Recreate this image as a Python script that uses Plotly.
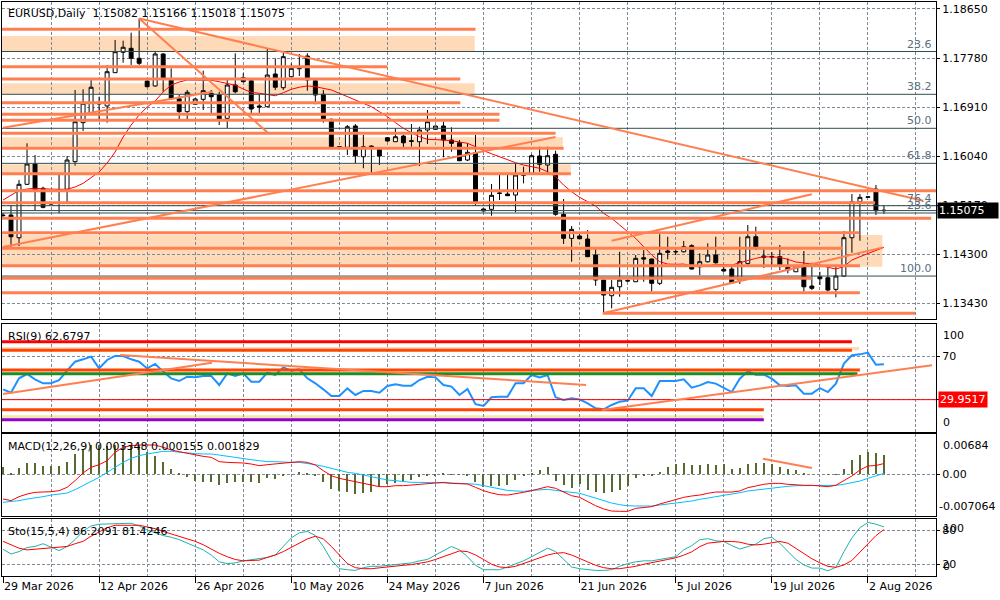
import datetime as dt
import plotly.graph_objects as go

# ---------------- categories (broker calendar: Sunday..Friday bars) ----------------
N_BARS = 111
dates = []
_d = dt.date(2026, 3, 29)
while len(dates) < N_BARS:
    if _d.weekday() != 5:
        dates.append(_d)
    _d += dt.timedelta(days=1)
date_labels = [f"{x.day} {x.strftime('%b')} {x.year}" for x in dates]
bars = list(range(N_BARS))

tick_labels = ["29 Mar 2026", "12 Apr 2026", "26 Apr 2026", "10 May 2026", "24 May 2026",
               "7 Jun 2026", "21 Jun 2026", "5 Jul 2026", "19 Jul 2026", "2 Aug 2026"]
price_ticks = [1.18650, 1.17780, 1.16910, 1.16040, 1.15170, 1.14300, 1.13430]

# ---------------- EURUSD daily OHLC ----------------
opens = [1.14996, 1.14996, 1.14594, 1.15541, 1.15901, 1.15470, 1.15204, 1.15431, 1.15452, 1.15942,
         1.16634, 1.16811, 1.16965, 1.16930, 1.17521, 1.17882, 1.17953, 1.17776, 1.17373, 1.17285,
         1.17852, 1.17391, 1.17059, 1.16829, 1.16960, 1.17048, 1.17155, 1.17125, 1.16711, 1.17302,
         1.17431, 1.17378, 1.16930, 1.16917, 1.17497, 1.17254, 1.17449, 1.17591, 1.17816, 1.17378,
         1.17137, 1.16694, 1.16185, 1.16197, 1.16575, 1.16030, 1.16220, 1.16161, 1.16367, 1.16296,
         1.16397, 1.16314, 1.16296, 1.16504, 1.16516, 1.16575, 1.16326, 1.16278, 1.15972, 1.16101,
         1.15103, 1.15097, 1.15378, 1.15369, 1.15351, 1.15702, 1.15736, 1.16043, 1.15883, 1.16073,
         1.15009, 1.14583, 1.14624, 1.14571, 1.14287, 1.13843, 1.13565, 1.13724, 1.13834, 1.13813,
         1.14239, 1.14216, 1.13785, 1.14358, 1.14349, 1.14345, 1.14452, 1.14079, 1.14168, 1.14287,
         1.14033, 1.14038, 1.13843, 1.14139, 1.14611, 1.14269, 1.14260, 1.14257, 1.14097, 1.13990,
         1.14079, 1.13737, 1.13902, 1.13884, 1.13678, 1.13914, 1.14594, 1.15232, 1.15310, 1.15457,
         1.15082]
highs = [1.15032, 1.15174, 1.15617, 1.16268, 1.16060, 1.15498, 1.15227, 1.15736, 1.16043, 1.17214,
         1.17226, 1.17403, 1.17095, 1.17657, 1.18101, 1.18088, 1.18230, 1.18482, 1.17391, 1.17893,
         1.17865, 1.17598, 1.17125, 1.17214, 1.17066, 1.17556, 1.17214, 1.17183, 1.17391, 1.17865,
         1.17510, 1.17391, 1.17137, 1.17953, 1.17776, 1.17875, 1.17687, 1.17852, 1.17865, 1.17391,
         1.17214, 1.16708, 1.16220, 1.16592, 1.16610, 1.16415, 1.16229, 1.16167, 1.16374, 1.16534,
         1.16415, 1.16610, 1.16562, 1.16859, 1.16575, 1.16651, 1.16552, 1.16326, 1.16268, 1.16415,
         1.15112, 1.15546, 1.15706, 1.15706, 1.15913, 1.15853, 1.16073, 1.16208, 1.16208, 1.16137,
         1.15280, 1.14801, 1.14672, 1.14730, 1.14406, 1.13852, 1.13843, 1.14345, 1.13861, 1.14287,
         1.14375, 1.14225, 1.14672, 1.14611, 1.14411, 1.14535, 1.14477, 1.14317, 1.14494, 1.14611,
         1.14127, 1.14079, 1.14611, 1.14819, 1.14789, 1.14411, 1.14340, 1.14464, 1.14228, 1.14092,
         1.14358, 1.14150, 1.13990, 1.14079, 1.14079, 1.14712, 1.15369, 1.15369, 1.15330, 1.15528,
         1.15166]
lows = [1.14961, 1.14434, 1.14446, 1.15528, 1.15072, 1.15115, 1.15174, 1.15026, 1.15215, 1.15871,
        1.16487, 1.16800, 1.16682, 1.16634, 1.17515, 1.17698, 1.17657, 1.17657, 1.17262, 1.17272,
        1.17183, 1.17036, 1.16682, 1.16699, 1.16948, 1.16859, 1.16800, 1.16592, 1.16534, 1.17155,
        1.17350, 1.16788, 1.16788, 1.16912, 1.17214, 1.17214, 1.17444, 1.17462, 1.17201, 1.16960,
        1.16634, 1.16197, 1.16172, 1.16060, 1.15913, 1.15825, 1.15746, 1.15883, 1.16296, 1.16291,
        1.16179, 1.16208, 1.15865, 1.16256, 1.16509, 1.16020, 1.16119, 1.15954, 1.15954, 1.15161,
        1.15059, 1.14984, 1.15262, 1.15333, 1.15044, 1.15558, 1.15733, 1.15764, 1.15746, 1.14984,
        1.14482, 1.14168, 1.14571, 1.14251, 1.13742, 1.13253, 1.13341, 1.13547, 1.13817, 1.13808,
        1.13813, 1.13636, 1.13755, 1.14210, 1.14287, 1.14331, 1.14033, 1.13932, 1.14154, 1.14136,
        1.13990, 1.13781, 1.13772, 1.14079, 1.14375, 1.14056, 1.14092, 1.14021, 1.13962, 1.13985,
        1.13636, 1.13666, 1.13755, 1.13636, 1.13536, 1.13897, 1.14328, 1.14540, 1.15300, 1.14996,
        1.15018]
closes = [1.14987, 1.14611, 1.15541, 1.15901, 1.15440, 1.15133, 1.15192, 1.15449, 1.15972, 1.16651,
          1.16978, 1.17262, 1.16983, 1.17538, 1.17893, 1.17971, 1.17776, 1.17687, 1.17272, 1.17852,
          1.17408, 1.17059, 1.16829, 1.17172, 1.17054, 1.17201, 1.17095, 1.16694, 1.17302, 1.17183,
          1.17360, 1.16876, 1.16912, 1.17479, 1.17262, 1.17804, 1.17598, 1.17604, 1.17391, 1.17125,
          1.16682, 1.16208, 1.16211, 1.16562, 1.16048, 1.16208, 1.16179, 1.16043, 1.16309, 1.16385,
          1.16278, 1.16303, 1.16504, 1.16651, 1.16575, 1.16326, 1.16268, 1.15959, 1.16108, 1.15204,
          1.15068, 1.15346, 1.15386, 1.15339, 1.15706, 1.15709, 1.16048, 1.15895, 1.16048, 1.15009,
          1.14583, 1.14742, 1.14576, 1.14257, 1.13843, 1.13577, 1.13714, 1.13843, 1.13827, 1.14228,
          1.14216, 1.13785, 1.14317, 1.14335, 1.14344, 1.14434, 1.14038, 1.14168, 1.14287, 1.14150,
          1.14003, 1.13795, 1.14168, 1.14611, 1.14434, 1.14251, 1.14255, 1.14109, 1.14021, 1.14079,
          1.13724, 1.13696, 1.13866, 1.13666, 1.13914, 1.14594, 1.15232, 1.15310, 1.15318, 1.15072,
          1.15075]
ma_line = [1.15262, 1.15351, 1.15431, 1.15457, 1.15470, 1.15461, 1.15452, 1.15452, 1.15452, 1.15493,
           1.15558, 1.15652, 1.15759, 1.15918, 1.16114, 1.16380, 1.16592, 1.16770, 1.16912, 1.17018,
           1.17178, 1.17302, 1.17355, 1.17391, 1.17391, 1.17391, 1.17385, 1.17360, 1.17332, 1.17298,
           1.17231, 1.17172, 1.17155, 1.17137, 1.17112, 1.17165, 1.17226, 1.17262, 1.17285, 1.17272,
           1.17243, 1.17214, 1.17155, 1.17095, 1.17024, 1.16978, 1.16917, 1.16829, 1.16740, 1.16634,
           1.16534, 1.16456, 1.16385, 1.16339, 1.16326, 1.16326, 1.16314, 1.16296, 1.16268, 1.16208,
           1.16137, 1.16083, 1.16030, 1.15972, 1.15924, 1.15883, 1.15853, 1.15825, 1.15764, 1.15675,
           1.15528, 1.15409, 1.15310, 1.15232, 1.15156, 1.15026, 1.14938, 1.14819, 1.14700, 1.14583,
           1.14434, 1.14287, 1.14168, 1.14127, 1.14122, 1.14127, 1.14092, 1.14079, 1.14092, 1.14122,
           1.14115, 1.14109, 1.14150, 1.14193, 1.14228, 1.14257, 1.14251, 1.14246, 1.14210, 1.14163,
           1.14145, 1.14127, 1.14109, 1.14069, 1.14038, 1.14083, 1.14198, 1.14257, 1.14317, 1.14375,
           1.14423]

# ---------------- indicators ----------------
rsi = [39.5, 36.4, 49.7, 53.7, 48.8, 45.1, 45.1, 48.1, 56.8, 65.1,
       67.3, 69.8, 58.9, 66.7, 70.4, 70.4, 67.3, 65.1, 58.9, 63.0,
       55.9, 49.7, 47.2, 51.2, 50.6, 51.9, 51.9, 43.5, 54.3, 51.9,
       54.3, 46.6, 46.6, 54.9, 52.8, 59.9, 56.8, 58.0, 49.7, 45.1,
       39.5, 33.3, 33.3, 40.4, 34.3, 38.0, 38.0, 36.4, 42.6, 44.1,
       42.9, 42.9, 48.1, 51.2, 50.6, 43.5, 42.0, 34.3, 39.8, 25.8,
       24.1, 32.1, 32.7, 32.7, 45.1, 45.1, 52.8, 50.6, 52.8, 32.1,
       29.6, 31.2, 30.2, 26.5, 21.9, 21.0, 25.0, 28.1, 29.0, 40.4,
       40.4, 33.3, 47.2, 47.2, 47.2, 48.8, 41.0, 43.2, 46.3, 44.8,
       41.0, 37.0, 49.4, 56.2, 53.1, 53.1, 49.4, 43.2, 42.6, 43.2,
       35.5, 35.5, 40.7, 37.0, 44.8, 63.3, 71.0, 71.9, 73.5, 62.3,
       62.6797]
macd_main = [-0.00418, -0.00446, -0.00379, -0.00334, -0.00305, -0.00305, -0.00294, -0.00277, -0.00220, -0.00107,
             0.00023, 0.00119, 0.00164, 0.00232, 0.00373, 0.00458, 0.00486, 0.00497, 0.00503, 0.00497,
             0.00458, 0.00413, 0.00384, 0.00356, 0.00327, 0.00305, 0.00288, 0.00215, 0.00203, 0.00203,
             0.00192, 0.00175, 0.00147, 0.00164, 0.00175, 0.00192, 0.00203, 0.00215, 0.00203, 0.00158,
             0.00062, -0.00023, -0.00068, -0.00096, -0.00136, -0.00164, -0.00192, -0.00209, -0.00209, -0.00192,
             -0.00192, -0.00181, -0.00164, -0.00147, -0.00136, -0.00136, -0.00153, -0.00164, -0.00164, -0.00220,
             -0.00277, -0.00317, -0.00345, -0.00351, -0.00334, -0.00305, -0.00277, -0.00248, -0.00209, -0.00237,
             -0.00305, -0.00362, -0.00390, -0.00463, -0.00532, -0.00587, -0.00622, -0.00627, -0.00627, -0.00577,
             -0.00560, -0.00548, -0.00503, -0.00463, -0.00418, -0.00390, -0.00367, -0.00351, -0.00322, -0.00300,
             -0.00300, -0.00300, -0.00282, -0.00226, -0.00198, -0.00169, -0.00153, -0.00153, -0.00169, -0.00181,
             -0.00186, -0.00186, -0.00198, -0.00209, -0.00186, -0.00113, -0.00028, 0.00074, 0.00141, 0.00150,
             0.001829]
macd_signal = [-0.00475, -0.00463, -0.00446, -0.00418, -0.00401, -0.00379, -0.00351, -0.00334, -0.00317, -0.00260,
               -0.00192, -0.00124, -0.00051, 0.00034, 0.00119, 0.00203, 0.00272, 0.00317, 0.00345, 0.00373,
               0.00390, 0.00390, 0.00373, 0.00356, 0.00351, 0.00345, 0.00345, 0.00327, 0.00305, 0.00288,
               0.00272, 0.00248, 0.00232, 0.00215, 0.00215, 0.00203, 0.00203, 0.00203, 0.00186, 0.00164,
               0.00136, 0.00102, 0.00062, 0.00034, 0.00017, -0.00012, -0.00040, -0.00068, -0.00096, -0.00107,
               -0.00124, -0.00136, -0.00136, -0.00136, -0.00136, -0.00141, -0.00147, -0.00153, -0.00164, -0.00167,
               -0.00192, -0.00220, -0.00248, -0.00272, -0.00282, -0.00288, -0.00272, -0.00260, -0.00255, -0.00272,
               -0.00288, -0.00305, -0.00322, -0.00362, -0.00407, -0.00446, -0.00486, -0.00514, -0.00532, -0.00537,
               -0.00542, -0.00537, -0.00520, -0.00503, -0.00492, -0.00475, -0.00452, -0.00424, -0.00396, -0.00379,
               -0.00356, -0.00339, -0.00311, -0.00282, -0.00265, -0.00255, -0.00226, -0.00215, -0.00203, -0.00192,
               -0.00192, -0.00192, -0.00192, -0.00192, -0.00186, -0.00169, -0.00141, -0.00113, -0.00068, -0.00028,
               0.000155]
macd_hist = [0.00119, 0.00008, 0.00102, 0.00186, 0.00186, 0.00147, 0.00141, 0.00136, 0.00215, 0.00345,
             0.00430, 0.00497, 0.00497, 0.00475, 0.00497, 0.00486, 0.00486, 0.00497, 0.00384, 0.00305,
             0.00203, 0.00091, 0.00008, -0.00051, -0.00107, -0.00124, -0.00136, -0.00175, -0.00147, -0.00124,
             -0.00124, -0.00136, -0.00147, -0.00068, -0.00079, -0.00016, 0.00000, 0.00034, 0.00016, -0.00023,
             -0.00136, -0.00248, -0.00277, -0.00305, -0.00334, -0.00317, -0.00294, -0.00220, -0.00164, -0.00147,
             -0.00136, -0.00096, -0.00045, -0.00023, -0.00023, 0.00008, 0.00005, -0.00008, -0.00023, -0.00136,
             -0.00220, -0.00203, -0.00192, -0.00175, -0.00096, -0.00012, 0.00023, 0.00079, 0.00119, -0.00107,
             -0.00181, -0.00237, -0.00155, -0.00265, -0.00305, -0.00317, -0.00305, -0.00260, -0.00192, -0.00068,
             -0.00023, -0.00012, 0.00034, 0.00119, 0.00175, 0.00186, 0.00158, 0.00158, 0.00169, 0.00158,
             0.00169, 0.00085, 0.00113, 0.00169, 0.00192, 0.00198, 0.00181, 0.00124, 0.00096, 0.00074,
             0.00017, 0.00000, 0.00000, -0.00003, 0.00003, 0.00096, 0.00243, 0.00327, 0.00384, 0.00356,
             0.003348]
sto_main = [47.0, 38.6, 42.8, 50.0, 51.8, 56.6, 50.6, 44.6, 51.8, 63.8,
            78.8, 87.8, 90.8, 91.4, 92.6, 92.6, 92.6, 87.8, 80.6, 75.8,
            71.0, 68.0, 63.8, 57.8, 51.8, 45.8, 36.8, 24.8, 21.8, 23.0,
            26.6, 29.0, 30.2, 32.6, 36.8, 51.8, 66.8, 75.8, 78.2, 71.0,
            51.8, 27.8, 12.8, 11.0, 9.8, 14.6, 17.0, 17.0, 18.8, 20.0,
            21.8, 23.0, 26.6, 29.0, 36.8, 44.6, 51.8, 45.8, 33.8, 18.8,
            11.0, 11.0, 11.0, 15.8, 20.6, 26.6, 33.8, 41.0, 48.8, 42.8,
            29.0, 15.8, 12.8, 11.0, 9.8, 9.8, 11.0, 17.0, 21.8, 24.8,
            26.6, 26.6, 29.0, 30.8, 33.8, 45.8, 53.3, 63.6, 65.5, 61.8,
            60.6, 53.3, 47.3, 51.5, 55.8, 65.5, 67.9, 57.6, 42.4, 29.1,
            19.4, 13.9, 13.9, 9.1, 15.2, 42.4, 66.7, 84.8, 93.9, 90.9,
            86.2091]
sto_signal = [60.8, 54.8, 48.8, 45.8, 47.0, 48.8, 50.0, 50.0, 51.8, 56.6,
              60.8, 69.8, 77.6, 84.8, 89.0, 89.6, 89.0, 89.0, 86.6, 83.0,
              78.2, 74.0, 69.8, 65.0, 60.8, 54.8, 47.0, 39.8, 33.8, 29.0,
              26.6, 26.6, 27.8, 32.6, 36.8, 42.8, 50.0, 57.8, 65.0, 69.8,
              65.0, 51.8, 36.8, 21.8, 14.6, 12.8, 12.8, 14.6, 15.8, 17.6,
              18.8, 20.0, 21.8, 24.8, 29.0, 33.8, 39.8, 44.0, 42.8, 36.8,
              29.0, 20.6, 15.8, 14.6, 17.0, 21.8, 26.6, 32.6, 36.8, 39.8,
              41.0, 36.8, 30.8, 24.8, 18.8, 14.6, 12.8, 12.8, 14.6, 17.0,
              20.6, 23.0, 26.6, 29.0, 32.0, 36.5, 42.4, 51.5, 57.6, 59.4,
              60.6, 60.6, 59.4, 55.8, 54.5, 55.8, 57.6, 60.6, 57.6, 48.5,
              39.4, 30.3, 23.0, 17.0, 15.2, 19.4, 27.3, 42.4, 57.6, 70.9,
              81.4246]

# ---------------- drawn objects (price levels / trend lines) ----------------
fib_prices = [1.17896, 1.17137, 1.16534, 1.15913, 1.15161, 1.15032, 1.13914]
fib_names = ["23.6", "38.2", "50.0", "61.8", "76.4", "23.6", "100.0"]
bid_price = 1.15075
hline_prices = [1.18290, 1.17627, 1.17408, 1.16988, 1.16782, 1.16676, 1.16445, 1.16179, 1.15729,
                1.15427, 1.15215, 1.14938, 1.14682, 1.14406, 1.14097, 1.13873, 1.13618, 1.13253]
hline_from = [None] * 17 + [74.9]
hline_to = [59.0, 48.0, 57.1, 57.1, 62.0, 62.0, 69.0, 70.0, 70.9,
            None, 108.9, 115.9, 106.9, 104.9, 107.0, 101.0, 107.0, 113.9]
zone_hi = [1.18171, 1.17332, 1.16374, 1.15895, 1.14641]
zone_lo = [1.17893, 1.17137, 1.16208, 1.15723, 1.14079]
zone_to = [58.9, 58.9, 69.9, 70.9, 109.8]
trend_lines = [(17.0, 1.18482, 114.9, 1.15250), (17.0, 1.18482, 33.1, 1.16451),
               (0.0, 1.14429, 69.0, 1.16380), (0.0, 1.16545, 26.2, 1.17183),
               (76.0, 1.14540, 101.0, 1.15363), (74.9, 1.13253, 109.9, 1.14423)]
rsi_levels = [83.5, 75.6, 57.4, 54.0, 20.7, 11.4]
rsi_level_to = [106.0, 106.0, 107.0, 106.7, 95.0, 95.0]
rsi_level_colors = ["#FF0000", "#FF4500", "#FF4500", "#228B22", "#FF4500", "#9400D3"]
rsi_zones = [(75.6, 78.7, 106.9, "#FFDAB9"), (12.3, 15.5, 94.9, "#EEE8AA")]
rsi_marker = 29.9517
rsi_trends = [(0.0, 35.2, 26.1, 64.2), (14.6, 71.3, 72.8, 43.5), (74.8, 20.4, 116.0, 61.8)]
macd_trend = (94.9, 0.00265, 101.0, 0.00107)

# ---------------- figure ----------------
FONT = "DejaVu Sans"
GRID = "#7f8a99"
XR = [-0.125, 116.5]
tick_pos = [date_labels.index(t) for t in tick_labels]
minor_pos = [p + 6 for p in tick_pos]
CORAL = "#FF7F50"

fig = go.Figure()
fig.add_trace(go.Candlestick(
    x=bars, open=opens, high=highs, low=lows, close=closes, xaxis="x", yaxis="y",
    increasing=dict(line=dict(color="black", width=1), fillcolor="white"),
    decreasing=dict(line=dict(color="black", width=1), fillcolor="black"),
    whiskerwidth=0, showlegend=False, hoverinfo="skip"))
fig.add_trace(go.Scatter(x=bars, y=ma_line, mode="lines", line=dict(color="#FF0000", width=1),
                         xaxis="x", yaxis="y", showlegend=False, hoverinfo="skip"))
fig.add_trace(go.Scatter(x=bars, y=rsi, mode="lines", line=dict(color="#1E90FF", width=2),
                         xaxis="x2", yaxis="y2", showlegend=False, hoverinfo="skip"))
fig.add_trace(go.Bar(x=bars, y=macd_hist, width=0.14, marker=dict(color="#556B2F", line=dict(width=0)),
                     xaxis="x3", yaxis="y3", showlegend=False, hoverinfo="skip"))
fig.add_trace(go.Scatter(x=bars, y=macd_signal, mode="lines", line=dict(color="#00BFFF", width=1),
                         xaxis="x3", yaxis="y3", showlegend=False, hoverinfo="skip"))
fig.add_trace(go.Scatter(x=bars, y=macd_main, mode="lines", line=dict(color="#FF0000", width=1),
                         xaxis="x3", yaxis="y3", showlegend=False, hoverinfo="skip"))
fig.add_trace(go.Scatter(x=bars, y=sto_main, mode="lines", line=dict(color="#20B2AA", width=1),
                         xaxis="x4", yaxis="y4", showlegend=False, hoverinfo="skip"))
fig.add_trace(go.Scatter(x=bars, y=sto_signal, mode="lines", line=dict(color="#FF0000", width=1),
                         xaxis="x4", yaxis="y4", showlegend=False, hoverinfo="skip"))

shapes = []
for hi, lo, to in zip(zone_hi, zone_lo, zone_to):
    shapes.append(dict(type="rect", xref="x", yref="y", x0=XR[0], x1=to, y0=lo, y1=hi,
                       fillcolor="#FFDAB9", line=dict(width=0), layer="below"))
for p in fib_prices + [bid_price]:
    shapes.append(dict(type="line", xref="x domain", yref="y", x0=0, x1=1, y0=p, y1=p,
                       line=dict(color="#2F4F4F", width=1), layer="above"))
for p, f, t in zip(hline_prices, hline_from, hline_to):
    shapes.append(dict(type="line", xref="x", yref="y", x0=XR[0] if f is None else f,
                       x1=XR[1] if t is None else t, y0=p, y1=p,
                       line=dict(color=CORAL, width=3), layer="above"))
for a, pa, b, pb in trend_lines:
    shapes.append(dict(type="line", xref="x", yref="y", x0=a, y0=pa, x1=b, y1=pb,
                       line=dict(color=CORAL, width=2), layer="above"))
for lo, hi, to, col in rsi_zones:
    shapes.append(dict(type="rect", xref="x2", yref="y2", x0=XR[0], x1=to, y0=lo, y1=hi,
                       fillcolor=col, line=dict(width=0), layer="below"))
for lv, to, col in zip(rsi_levels, rsi_level_to, rsi_level_colors):
    shapes.append(dict(type="line", xref="x2", yref="y2", x0=XR[0], x1=to, y0=lv, y1=lv,
                       line=dict(color=col, width=3), layer="above"))
shapes.append(dict(type="line", xref="x2 domain", yref="y2", x0=0, x1=1, y0=rsi_marker, y1=rsi_marker,
                   line=dict(color="#FF0000", width=1), layer="above"))
for a, va, b, vb in rsi_trends:
    shapes.append(dict(type="line", xref="x2", yref="y2", x0=a, y0=va, x1=b, y1=vb,
                       line=dict(color=CORAL, width=2), layer="above"))
a, va, b, vb = macd_trend
shapes.append(dict(type="line", xref="x3", yref="y3", x0=a, y0=va, x1=b, y1=vb,
                   line=dict(color=CORAL, width=2), layer="above"))

ann = []
def txt(text, xref, yref, x, y, xanchor, yanchor, xshift=0, yshift=0, color="black", bg=None, width=None):
    d = dict(text=text, xref=xref, yref=yref, x=x, y=y, xanchor=xanchor, yanchor=yanchor,
             xshift=xshift, yshift=yshift, showarrow=False, borderpad=1,
             font=dict(family=FONT, size=11, color=color))
    if bg:
        d["bgcolor"] = bg
    if width:
        d["width"] = width
        d["align"] = "left"
    ann.append(d)

txt("EURUSD,Daily\u00a0 1.15082 1.15166 1.15018 1.15075", "x domain", "y domain", 0, 1, "left", "top", 4, -3)
txt("RSI(9) 62.6797", "x2 domain", "y2 domain", 0, 1, "left", "top", 4, -4)
txt("MACD(12,26,9) 0.003348 0.000155 0.001829", "x3 domain", "y3 domain", 0, 1, "left", "top", 4, -4)
txt("Sto(15,5,4) 86.2091 81.4246", "x4 domain", "y4 domain", 0, 1, "left", "top", 4, -4)
for p, n in zip(fib_prices, fib_names):
    txt(n, "x domain", "y", 1, p, "right", "bottom", -2, -1, color="#5b6e80")
txt("1.15075", "paper", "y", 1, bid_price, "left", "middle", 1, 0, color="white", bg="black", width=58)
txt("100", "paper", "y2", 1, 100, "left", "top", 5, -3)
txt("0", "paper", "y2", 1, 0, "left", "bottom", 5, 1)
txt("29.9517", "paper", "y2", 1, rsi_marker, "left", "middle", 2, 0, color="white", bg="#FF0000", width=46)
txt("0.00684", "paper", "y3", 1, 0.00684, "left", "top", 5, -3)
txt("-0.007064", "paper", "y3", 1, -0.007064, "left", "bottom", 1, 1)
txt("100", "paper", "y4", 1, 100, "left", "top", 5, -1)
txt("0", "paper", "y4", 1, 0, "left", "bottom", 5, 1)

def xaxis(anchor, labels):
    return dict(domain=[0, 1], range=XR, anchor=anchor, tickmode="array", tickvals=tick_pos,
                ticktext=tick_labels if labels else [""] * len(tick_pos), showticklabels=labels,
                ticks="outside" if labels else "", ticklen=6, tickcolor="black",
                ticklabelposition="outside right",
                showgrid=True, gridcolor=GRID, griddash="3px,2px", gridwidth=1,
                minor=dict(tickmode="array", tickvals=minor_pos, showgrid=True, gridcolor=GRID,
                           griddash="3px,2px", gridwidth=1, ticks=""),
                showline=True, mirror=True, linecolor="black", linewidth=1, zeroline=False,
                rangeslider=dict(visible=False), fixedrange=True,
                tickfont=dict(family=FONT, size=11, color="black"))

def yaxis(anchor, domain, rng, vals, text):
    return dict(domain=domain, range=rng, anchor=anchor, side="right", tickmode="array",
                tickvals=vals, ticktext=text, ticks="outside", ticklen=3, tickcolor="black",
                showgrid=True, gridcolor=GRID, griddash="3px,2px", gridwidth=1,
                showline=True, mirror=True, linecolor="black", linewidth=1, zeroline=False,
                fixedrange=True, tickfont=dict(family=FONT, size=11, color="black"))

fig.update_layout(
    width=1000, height=600, margin=dict(l=2, r=64, t=2, b=24),
    paper_bgcolor="white", plot_bgcolor="white", showlegend=False, bargap=0,
    font=dict(family=FONT, size=11, color="black"),
    xaxis=xaxis("y", False),
    xaxis2=dict(xaxis("y2", False), matches="x"),
    xaxis3=dict(xaxis("y3", False), matches="x"),
    xaxis4=dict(xaxis("y4", True), matches="x"),
    yaxis=yaxis("x", [0.4477, 1.0], [1.13152, 1.18774], price_ticks, [f"{v:.5f}" for v in price_ticks]),
    yaxis2=yaxis("x2", [0.2509, 0.4390], [0, 100], [30, 70], ["", "70"]),
    yaxis3=yaxis("x3", [0.1045, 0.2474], [-0.007064, 0.00684], [0], ["0.00"]),
    yaxis4=yaxis("x4", [0.0, 0.0993], [0, 100], [20, 80], ["20", "80"]),
    shapes=shapes, annotations=ann,
)
fig.write_html("out.html", config={"displayModeBar": False},
               post_script="document.body.style.margin='0';document.body.style.overflow='hidden';")
